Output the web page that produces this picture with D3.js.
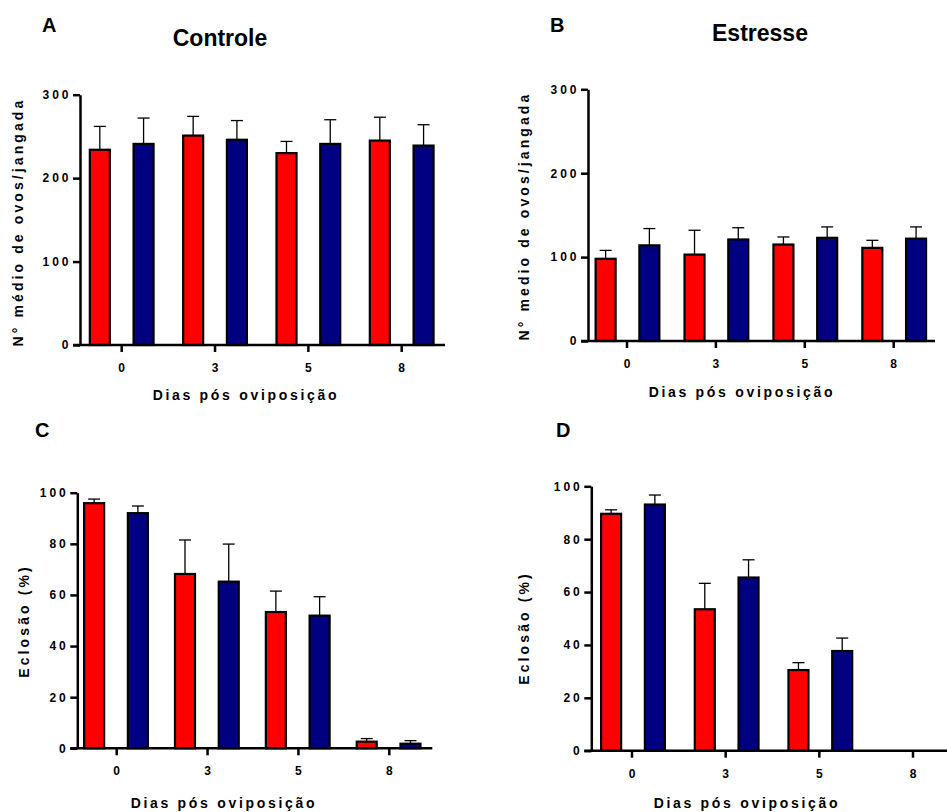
<!DOCTYPE html>
<meta charset="utf-8">
<title>Ovos e eclosão</title>
<style>
  body { margin: 0; background: #fff; }
  svg { display: block; font-family: "Liberation Sans", Arial, sans-serif; }
  .axis path, .axis line { stroke: #000; stroke-width: 2.5px; }
  .axis text { font-family: "Liberation Sans", Arial, sans-serif; font-size: 12px; font-weight: bold; letter-spacing: 3px; fill: #000; }
  .bar { stroke: #000; stroke-width: 2.2px; }
  .err { stroke: #000; stroke-width: 1.3px; fill: none; }
  .letter { font-size: 20px; font-weight: bold; }
  .title { font-size: 23px; font-weight: bold; }
  .ylabel { font-size: 14px; font-weight: bold; letter-spacing: 3.1px; }
  .xlabel { font-size: 14px; font-weight: bold; letter-spacing: 2.7px; }
</style>
<body>
<script src="https://d3js.org/d3.v7.min.js"></script>
<script>

var width = 947,
    height = 812;

var days = ["0", "3", "5", "8"];
var groups = ["red", "blue"];
var colors = ["#ff0000", "#000080"];

// ovos por jangada, controle (A)
var ovosControleRed = [234, 251, 230, 245];
var ovosControleRedErr = [28, 23, 14, 28];
var ovosControleBlue = [241, 246, 241, 239];
var ovosControleBlueErr = [31, 23, 29, 25];

// ovos por jangada, estresse (B)
var ovosEstresseRed = [98, 103, 115, 111];
var ovosEstresseRedErr = [10, 29, 9, 9];
var ovosEstresseBlue = [114, 121, 123, 122];
var ovosEstresseBlueErr = [20, 14, 13, 14];

// eclosão (%), controle (C)
var eclosaoControleRed = [95.9, 68.2, 53.3, 2.6];
var eclosaoControleRedErr = [1.6, 13.3, 8.2, 1.2];
var eclosaoControleBlue = [92, 65.2, 51.9, 1.8];
var eclosaoControleBlueErr = [2.8, 14.7, 7.4, 1.2];

// eclosão (%), estresse (D)
var eclosaoEstresseRed = [89.6, 53.5, 30.5, 0];
var eclosaoEstresseRedErr = [1.5, 9.8, 2.8, 0];
var eclosaoEstresseBlue = [93.1, 65.5, 37.7, 0];
var eclosaoEstresseBlueErr = [3.6, 6.7, 4.9, 0];

var ticksOvos = [0, 100, 200, 300];
var ticksEclosao = [0, 20, 40, 60, 80, 100];

var svg = d3.select("body").append("svg")
  .attr("width", width)
  .attr("height", height);

var panels = [
  {letter: "A", lx: 42, ly: 32, title: "Controle", tx: 220, ty: 46,
   ox: 80, oy: 345, h: 250.3, right: 445, t0: 121.7, t1: 401.7, shift: 0,
   max: 300, ticks: ticksOvos, ylabel: "N° médio de ovos/jangada", ylx: 23, yly: 222,
   xlx: 246, xly: 400,
   red: ovosControleRed, redErr: ovosControleRedErr, blue: ovosControleBlue, blueErr: ovosControleBlueErr},
  {letter: "B", lx: 550, ly: 32, title: "Estresse", tx: 760, ty: 41,
   ox: 588, oy: 341, h: 251.7, right: 935, t0: 627, t1: 893.7, shift: 0.5,
   max: 300, ticks: ticksOvos, ylabel: "N° medio de ovos/jangada", ylx: 528.5, yly: 216,
   xlx: 742, xly: 397,
   red: ovosEstresseRed, redErr: ovosEstresseRedErr, blue: ovosEstresseBlue, blueErr: ovosEstresseBlueErr},
  {letter: "C", lx: 35, ly: 437, title: null,
   ox: 77.3, oy: 748.3, h: 255.6, right: 432.3, t0: 116.7, t1: 389.3, shift: -0.7,
   max: 100, ticks: ticksEclosao, ylabel: "Eclosão (%)", ylx: 29, yly: 621,
   xlx: 224, xly: 808,
   red: eclosaoControleRed, redErr: eclosaoControleRedErr, blue: eclosaoControleBlue, blueErr: eclosaoControleBlueErr},
  {letter: "D", lx: 556, ly: 437, title: null,
   ox: 591.3, oy: 750.7, h: 264.4, right: 960, t0: 632, t1: 913, shift: 1,
   max: 100, ticks: ticksEclosao, ylabel: "Eclosão  (%)", ylx: 528.5, yly: 628,
   xlx: 747, xly: 808,
   red: eclosaoEstresseRed, redErr: eclosaoEstresseRedErr, blue: eclosaoEstresseBlue, blueErr: eclosaoEstresseBlueErr}
];

panels.forEach(drawPanel);

function drawPanel(p) {
  var g = svg.append("g");

  var y = d3.scaleLinear().domain([0, p.max]).range([p.oy, p.oy - p.h]);
  var x = d3.scalePoint().domain(days).range([p.t0, p.t1]);
  var sub = d3.scaleBand().domain(groups).range([-35, 35]).paddingInner(0.4);

  var rows = days.map(function(d, i) {
    return [
      {day: d, grp: "red", v: p.red[i], e: p.redErr[i]},
      {day: d, grp: "blue", v: p.blue[i], e: p.blueErr[i]}
    ];
  }).flat();

  var cx = function(d) { return x(d.day) + p.shift + sub(d.grp) + sub.bandwidth() / 2; };

  // error bars (upper only)
  var eb = g.selectAll(".errbar").data(rows.filter(function(d) { return d.v > 0; }))
    .enter().append("g").attr("class", "errbar");
  eb.append("line").attr("class", "err")
    .attr("x1", cx).attr("x2", cx)
    .attr("y1", function(d) { return y(d.v); })
    .attr("y2", function(d) { return y(d.v + d.e); });
  eb.append("line").attr("class", "err")
    .attr("x1", function(d) { return cx(d) - 6; })
    .attr("x2", function(d) { return cx(d) + 6; })
    .attr("y1", function(d) { return y(d.v + d.e); })
    .attr("y2", function(d) { return y(d.v + d.e); });

  g.selectAll(".bar").data(rows.filter(function(d) { return d.v > 0; }))
    .enter().append("rect")
    .attr("class", "bar")
    .attr("x", function(d) { return cx(d) - 10; })
    .attr("width", 20)
    .attr("y", function(d) { return y(d.v); })
    .attr("height", function(d) { return y(0) - y(d.v); })
    .attr("fill", function(d) { return colors[groups.indexOf(d.grp)]; });

  // y axis
  g.append("g").attr("class", "axis")
    .attr("transform", "translate(" + p.ox + ",0)")
    .call(d3.axisLeft(y).tickValues(p.ticks).tickSize(7).tickSizeOuter(0).tickPadding(1.5));

  // x axis
  var xa = g.append("g").attr("class", "axis")
    .attr("transform", "translate(0," + p.oy + ")");
  xa.append("line").attr("x1", p.ox - 7).attr("x2", p.right)
    .attr("y1", 0).attr("y2", 0);
  var xt = xa.selectAll(".xt").data(days).enter().append("g").attr("class", "xt")
    .attr("transform", function(d) { return "translate(" + x(d) + ",0)"; });
  xt.append("line").attr("y1", 0).attr("y2", 7);
  xt.append("text").attr("y", 27).attr("dx", "1.5px")
    .attr("text-anchor", "middle").text(function(d) { return d; });

  g.append("text").attr("class", "letter")
    .attr("x", p.lx).attr("y", p.ly).text(p.letter);

  if (p.title) {
    g.append("text").attr("class", "title")
      .attr("x", p.tx).attr("y", p.ty).attr("text-anchor", "middle").text(p.title);
  }

  g.append("text").attr("class", "ylabel")
    .attr("text-anchor", "middle")
    .attr("transform", "translate(" + p.ylx + "," + p.yly + ") rotate(-90)")
    .text(p.ylabel);

  g.append("text").attr("class", "xlabel")
    .attr("text-anchor", "middle")
    .attr("x", p.xlx).attr("y", p.xly)
    .text("Dias pós oviposição");
}

</script>
